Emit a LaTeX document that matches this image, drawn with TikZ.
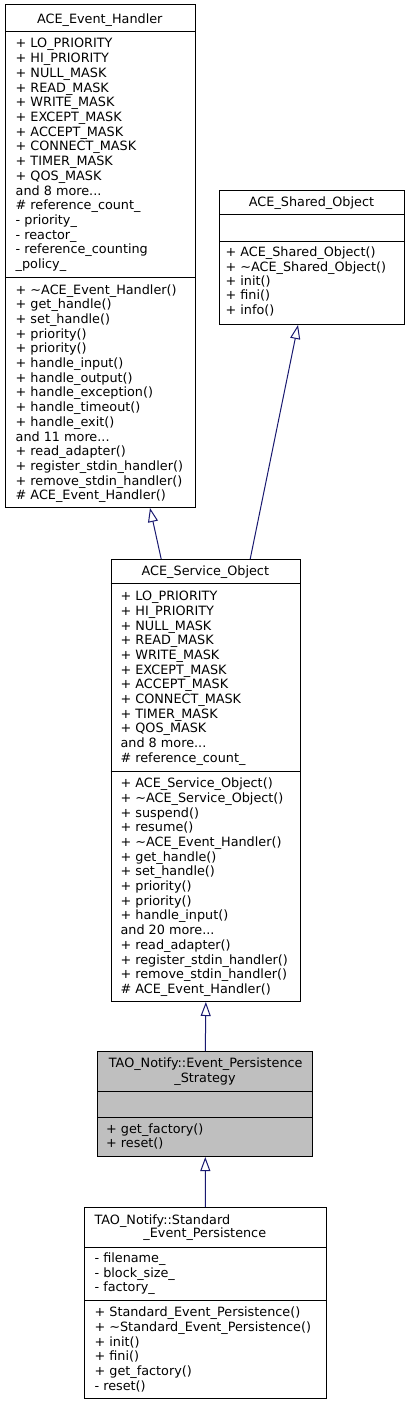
\documentclass[tikz,border=0pt]{standalone}
\usepackage{fontspec}
\setmainfont{DejaVu Sans}
\usetikzlibrary{arrows.meta}
\definecolor{edgeblue}{HTML}{191970}
\definecolor{boxgray}{HTML}{BFBFBF}
\newcommand\mydots{...}
\tikzset{
  classbox/.style={draw=black, line width=1pt, rectangle, inner sep=0pt, anchor=north west},
  sepline/.style={draw=black, line width=1pt},
  txt/.style={anchor=base west, inner sep=0pt, font=\fontsize{12.8}{14.7}\selectfont},
  ttl/.style={anchor=base, inner sep=0pt, font=\fontsize{12.8}{14.7}\selectfont},
  inherit/.style={draw=edgeblue, line width=1pt, -{Triangle[open, length=14pt, width=10pt]}},
}
\newcommand\classlines[5]{%
  \foreach \cl [count=\ci from 0] in {#5} {\node[txt] (#1\ci) at (#2, {#3+\ci*#4}) {\cl};}}
\begin{document}
\begin{tikzpicture}[x=1pt, y=-1pt]
\useasboundingbox[fill=white] (0,0) rectangle (409,1405);

% ACE_Event_Handler
\node[classbox, minimum width=189.5pt, minimum height=503pt] (aeh) at (5,4) {};
\draw[sepline] (5,32) -- (194.5,32);
\draw[sepline] (5,277) -- (194.5,277);
\node[ttl] (aehT) at (99.75,23.3) {ACE\_Event\_Handler};
\classlines{aehA}{15.5}{48}{14.7}{+ LO\_PRIORITY, + HI\_PRIORITY, + NULL\_MASK, + READ\_MASK, + WRITE\_MASK, + EXCEPT\_MASK, + ACCEPT\_MASK, + CONNECT\_MASK, + TIMER\_MASK, + QOS\_MASK, and 8 more\mydots, \# reference\_count\_, - priority\_, - reactor\_, - reference\_counting, \_policy\_}
\classlines{aehM}{15.5}{294}{14.7}{+ \textasciitilde ACE\_Event\_Handler(), + get\_handle(), + set\_handle(), + priority(), + priority(), + handle\_input(), + handle\_output(), + handle\_exception(), + handle\_timeout(), + handle\_exit(), and 11 more\mydots, + read\_adapter(), + register\_stdin\_handler(), + remove\_stdin\_handler(), \# ACE\_Event\_Handler()}

% ACE_Shared_Object
\node[classbox, minimum width=185pt, minimum height=134pt] (aso) at (219,190) {};
\draw[sepline] (219,214) -- (404,214);
\draw[sepline] (219,241) -- (404,241);
\node[ttl] (asoT) at (311.5,206.4) {ACE\_Shared\_Object};
\classlines{asoM}{225.4}{256.6}{14.4}{+ ACE\_Shared\_Object(), + \textasciitilde ACE\_Shared\_Object(), + init(), + fini(), + info()}

% ACE_Service_Object
\node[classbox, minimum width=189.3pt, minimum height=442pt] (srv) at (110.7,559) {};
\draw[sepline] (110.7,583) -- (300,583);
\draw[sepline] (110.7,771) -- (300,771);
\node[ttl] (srvT) at (205.35,575.4) {ACE\_Service\_Object};
\classlines{srvA}{120.4}{600.6}{14.7}{+ LO\_PRIORITY, + HI\_PRIORITY, + NULL\_MASK, + READ\_MASK, + WRITE\_MASK, + EXCEPT\_MASK, + ACCEPT\_MASK, + CONNECT\_MASK, + TIMER\_MASK, + QOS\_MASK, and 8 more\mydots, \# reference\_count\_}
\classlines{srvM}{120.4}{787.6}{14.7}{+ ACE\_Service\_Object(), + \textasciitilde ACE\_Service\_Object(), + suspend(), + resume(), + \textasciitilde ACE\_Event\_Handler(), + get\_handle(), + set\_handle(), + priority(), + priority(), + handle\_input(), and 20 more\mydots, + read\_adapter(), + register\_stdin\_handler(), + remove\_stdin\_handler(), \# ACE\_Event\_Handler()}

% TAO_Notify::Event_Persistence_Strategy
\node[classbox, fill=boxgray, minimum width=215pt, minimum height=105pt] (eps) at (97.3,1051) {};
\draw[sepline] (97.3,1091) -- (312.3,1091);
\draw[sepline] (97.3,1117) -- (312.3,1117);
\node[txt] (epsT1) at (108.7,1067.6) {TAO\_Notify::Event\_Persistence};
\node[ttl] (epsT2) at (205,1082.3) {\_Strategy};
\classlines{epsM}{106}{1133}{14.7}{+ get\_factory(), + reset()}

% TAO_Notify::Standard_Event_Persistence
\node[classbox, minimum width=241.7pt, minimum height=191pt] (sep) at (84,1207) {};
\draw[sepline] (84,1247) -- (325.7,1247);
\draw[sepline] (84,1300) -- (325.7,1300);
\node[txt] (sepT1) at (94.4,1224) {TAO\_Notify::Standard};
\node[ttl] (sepT2) at (204.8,1237.6) {\_Event\_Persistence};
\classlines{sepA}{94.4}{1262.6}{14.4}{- filename\_, - block\_size\_, - factory\_}
\classlines{sepM}{94.4}{1316.6}{14.7}{+ Standard\_Event\_Persistence(), + \textasciitilde Standard\_Event\_Persistence(), + init(), + fini(), + get\_factory(), - reset()}

% inheritance connectors
\draw[inherit] ([xshift=50.5pt]srv.north west) -- ([xshift=145pt]aeh.south west);
\draw[inherit] ([xshift=139.5pt]srv.north west) -- ([xshift=79pt]aso.south west);
\draw[inherit] (eps.north) -- (srv.south);
\draw[inherit] (sep.north) -- (eps.south);
\end{tikzpicture}
\end{document}
